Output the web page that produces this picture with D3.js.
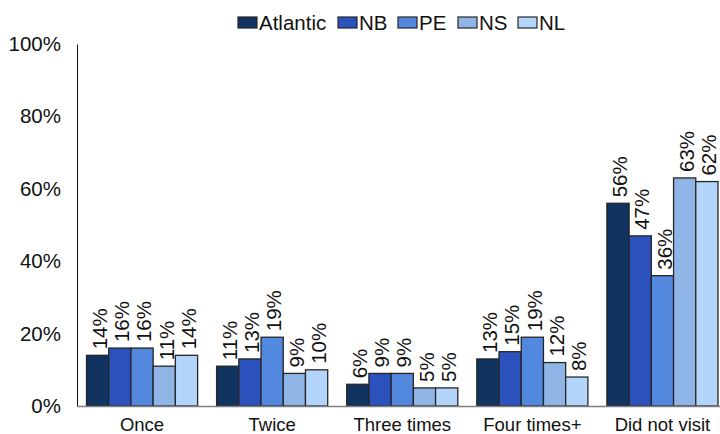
<!DOCTYPE html>
<html>
<head>
<meta charset="utf-8">
<script src="https://cdn.jsdelivr.net/npm/d3@7"></script>
<style>
  html, body { margin: 0; padding: 0; background: #fff; }
  svg { display: block; font-family: "Liberation Sans", Arial, sans-serif; }
</style>
</head>
<body>
<svg id="chart" width="720" height="434"></svg>
<script>
// Visit frequency by region (share of respondents)
const categories = ["Once", "Twice", "Three times", "Four times+", "Did not visit"];
const seriesNames = ["Atlantic", "NB", "PE", "NS", "NL"];
const atlantic = [14, 11, 6, 13, 56];
const nb       = [16, 13, 9, 15, 47];
const pe       = [16, 19, 9, 19, 36];
const ns       = [11, 9, 5, 12, 63];
const nl       = [14, 10, 5, 8, 62];
const yTicks = [0, 20, 40, 60, 80, 100];
const colors = ["#10335f", "#2b51bd", "#5388df", "#8fb5e6", "#b4d5fb"];

const seriesValues = [atlantic, nb, pe, ns, nl];

const svg = d3.select("#chart");
const margin = { left: 77, top: 44, bottom: 406 };
const plotRight = 727.5;

const y = d3.scaleLinear().domain([0, 100]).range([margin.bottom, margin.top]);
const x0 = d3.scaleBand().domain(categories).range([margin.left, plotRight]).paddingInner(0.146).paddingOuter(0.073);
const x1 = d3.scaleBand().domain(seriesNames).range([0, x0.bandwidth()]);
const color = d3.scaleOrdinal().domain(seriesNames).range(colors);

// Y axis labels
const yAxis = d3.axisLeft(y).tickValues(yTicks).tickFormat(d => d + "%").tickSize(0).tickPadding(16);
const gy = svg.append("g").attr("transform", `translate(${margin.left},0)`).call(yAxis);
gy.select(".domain").attr("stroke", "#111").attr("stroke-width", 1);
gy.selectAll("text").attr("font-size", 20.5).attr("fill", "#111")
  .attr("font-family", "Liberation Sans, Arial, sans-serif");

// Bars
const groups = svg.append("g").selectAll("g")
  .data(categories)
  .join("g")
  .attr("transform", d => `translate(${x0(d)},0)`);

const rows = groups.selectAll("g.bar")
  .data((c, ci) => seriesNames.map((s, si) => ({ s, v: seriesValues[si][ci] })))
  .join("g").attr("class", "bar");

rows.append("rect")
  .attr("x", d => x1(d.s))
  .attr("y", d => y(d.v))
  .attr("width", x1.bandwidth())
  .attr("height", d => y(0) - y(d.v))
  .attr("fill", d => color(d.s))
  .attr("stroke", "#262626")
  .attr("stroke-width", 1.3);

rows.append("text")
  .attr("transform", d => `translate(${x1(d.s) + x1.bandwidth() / 2},${y(d.v) - 6}) rotate(-90)`)
  .attr("dy", "0.45em")
  .attr("text-anchor", "start")
  .attr("font-size", 20.5)
  .attr("fill", "#111")
  .text(d => d.v + "%");

// X baseline and category labels
const xAxis = d3.axisBottom(x0).tickSize(0).tickPadding(10);
const gx = svg.append("g").attr("transform", `translate(0,${margin.bottom})`).call(xAxis);
gx.select(".domain").attr("stroke", "#7f7f7f").attr("stroke-width", 1.5);
gx.selectAll("text").attr("font-size", 18.5).attr("fill", "#111")
  .attr("font-family", "Liberation Sans, Arial, sans-serif")
  .attr("dy", "0.8em");

// Legend
const legendX = [238, 338, 398, 458, 518];
const legend = svg.append("g").selectAll("g")
  .data(seriesNames)
  .join("g")
  .attr("transform", (d, i) => `translate(${legendX[i]},0)`);
legend.append("rect")
  .attr("x", 0).attr("y", 17)
  .attr("width", 19).attr("height", 11)
  .attr("fill", d => color(d))
  .attr("stroke", "#262626").attr("stroke-width", 1.2);
legend.append("text")
  .attr("x", 21).attr("y", 30)
  .attr("font-size", 20.5)
  .attr("fill", "#111")
  .text(d => d);
</script>
</body>
</html>
